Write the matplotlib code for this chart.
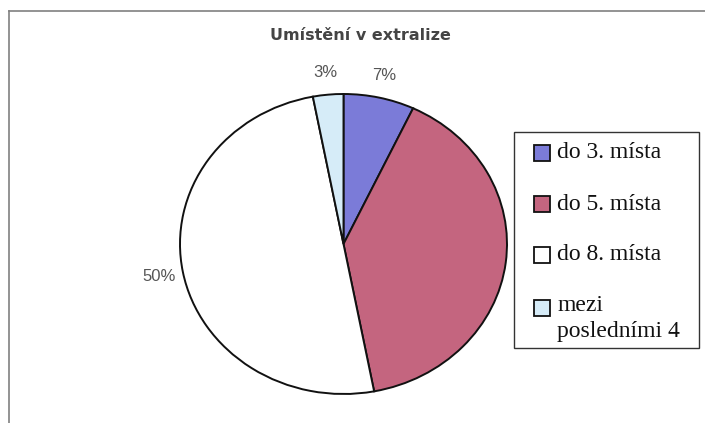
#!/usr/bin/env python3

import matplotlib
matplotlib.use('Agg')
import matplotlib.pyplot as plt
import matplotlib.patches as patches
from matplotlib.lines import Line2D

# data
categories = ['do 3. místa', 'do 5. místa', 'do 8. místa', 'mezi\nposledními 4']
shares = [7, 40, 50, 3]
show_pct = [True, False, True, True]
colors = ['#7b7bd8', '#c4657f', '#ffffff', '#d6ecf8']
title = 'Umístění v extralize'

W, H = 705, 423
fig = plt.figure(figsize=(W / 100, H / 100), dpi=100)
fig.patch.set_facecolor('white')

# outer frame: only top and left edges are visible in the scan
fig.add_artist(Line2D([9 / W, 1.0], [1 - 11 / H, 1 - 11 / H], color='#808080', lw=1.2))
fig.add_artist(Line2D([9 / W, 9 / W], [1 - 11 / H, 0.0], color='#808080', lw=1.2))

# pie axes sized so the (slightly elliptical) pie lands where it does in the scan
cx, cy, rx, ry = 343.5, 244, 163.5, 150
ax = fig.add_axes([(cx - rx) / W, (H - cy - ry) / H, 2 * rx / W, 2 * ry / H])

wedges, texts, autotexts = ax.pie(
    shares, colors=colors, startangle=90, counterclock=False,
    autopct='%1.0f%%', pctdistance=1.15,
    wedgeprops=dict(edgecolor='#111111', linewidth=1.4),
    textprops=dict(family='Liberation Sans', fontsize=12, color='#555555'),
)
for t, show in zip(autotexts, show_pct):
    t.set_visible(show)
ax.set_aspect('auto')
ax.set_xlim(-1, 1)
ax.set_ylim(-1, 1)
ax.axis('off')

fig.text(360 / W, 1 - 35 / H, title, ha='center', va='center',
         family='DejaVu Sans', fontweight='bold', fontsize=11.5, color='#444444')

# legend box drawn by hand (serif text, tall rows as in the original)
bx0, bx1, by0, by1 = 514, 699, 132, 348
fig.add_artist(patches.Rectangle((bx0 / W, 1 - by1 / H), (bx1 - bx0) / W, (by1 - by0) / H,
                                 transform=fig.transFigure, facecolor='white',
                                 edgecolor='#333333', lw=1.0))
row_y = [153, 204, 255, 308]
for label, color, y in zip(categories, colors, row_y):
    fig.add_artist(patches.Rectangle((534 / W, 1 - (y + 8) / H), 16 / W, 16 / H,
                                     transform=fig.transFigure, facecolor=color,
                                     edgecolor='#111111', lw=1.3))
    if '\n' in label:
        fig.text(557 / W, 1 - (y - 13) / H, label, ha='left', va='top',
                 family='Liberation Serif', fontsize=17, color='#111111', linespacing=1.3)
    else:
        fig.text(557 / W, 1 - y / H, label, ha='left', va='center',
                 family='Liberation Serif', fontsize=17, color='#111111')

plt.savefig('out.png', dpi=100)
plt.close()
